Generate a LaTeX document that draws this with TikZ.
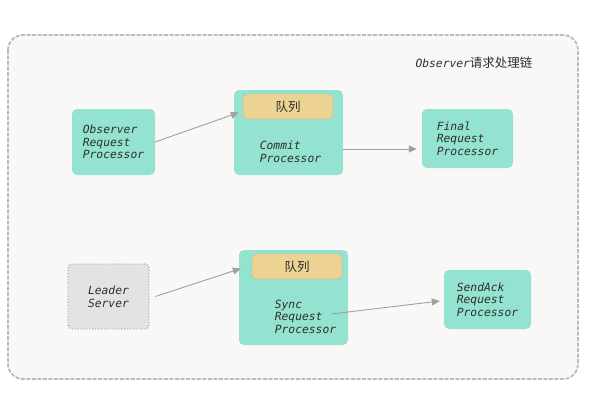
\documentclass[tikz,border=0pt]{standalone}
\usepackage{fontspec}
\setmonofont{DejaVu Sans Mono}[ItalicFont={DejaVu Sans Mono Oblique}]
\newfontfamily\cjk{Noto Sans CJK SC}
\usetikzlibrary{positioning,arrows.meta}
\definecolor{tealbox}{HTML}{93E3D0}
\definecolor{queuefill}{HTML}{EDD393}
\definecolor{queueline}{HTML}{BFAE80}
\definecolor{bgfill}{HTML}{FAF8F7}
\definecolor{bordergray}{HTML}{BBBBBB}
\definecolor{leaderfill}{HTML}{E3E3E3}
\definecolor{arrowgray}{HTML}{A0A0A0}
\definecolor{textgray}{HTML}{2E2E2E}
\newcommand{\procfont}{\ttfamily\itshape\fontsize{11.3}{12.6}\selectfont}
\begin{document}
\begin{tikzpicture}[x=1pt,y=-1pt,
        proc/.style={fill=tealbox, rounded corners=5pt, inner sep=0pt, font=\procfont, text=textgray, align=left},
        leader/.style={fill=leaderfill, draw=gray, dotted, line width=0.9pt, rounded corners=4pt, inner sep=0pt, font=\procfont, text=textgray, align=left},
        queue/.style={fill=queuefill, draw=queueline, rounded corners=4pt, minimum width=90pt, minimum height=25pt, font=\cjk\fontsize{12.5}{14}\selectfont, text=textgray},
        lbl/.style={font=\procfont, text=textgray, align=left, inner sep=0pt},
        arr/.style={draw=arrowgray, line width=0.9pt, -{Triangle[length=8pt,width=7pt]}}]
        \useasboundingbox (0,0) rectangle (602,412);
        \draw[fill=bgfill, draw=bordergray, line width=1.8pt, dash pattern=on 4pt off 1.5pt, rounded corners=15pt] (8,35) rectangle (578,379);

        \node[text=textgray, inner sep=0pt] (title) at (474,63) {{\procfont Observer}{\cjk\fontsize{12.5}{14}\selectfont 请求处理链}};

        % upper chain
        \node[proc, minimum width=83pt, minimum height=66pt] (obs) at (113.5,142) {Observer\\Request\\Processor};
        \node[proc, minimum width=109pt, minimum height=85pt] (commit) at (288.5,132.5) {};
        \node[queue] (cqueue) at (288,106.5) {队列};
        \node[lbl] (ctext) at (290.5,152) {Commit\\Processor};
        \node[proc, minimum width=91pt, minimum height=59pt] (final) at (467.5,138.5) {Final\\Request\\Processor};

        % lower chain
        \node[leader, minimum width=81pt, minimum height=65pt] (leader) at (108.5,296.5) {Leader\\Server};
        \node[proc, minimum width=109pt, minimum height=95pt] (sync) at (293.5,297.5) {};
        \node[queue] (squeue) at (297,266.5) {队列};
        \node[lbl] (stext) at (305.5,316.5) {Sync\\Request\\Processor};
        \node[proc, minimum width=87pt, minimum height=59pt] (sendack) at (487.5,299.5) {SendAck\\Request\\Processor};

        \draw[arr] (obs.east) -- ([xshift=5pt,yshift=20pt]commit.west);
        \draw[arr] ([yshift=-16.5pt]commit.east) -- ([xshift=-5pt,yshift=-10.5pt]final.west);
        \draw[arr] ([xshift=6pt]leader.east) -- ([xshift=2pt,yshift=29pt]sync.west);
        \draw[arr] ([xshift=-5pt,yshift=2.5pt]stext.east) -- ([xshift=-4pt,yshift=-1.5pt]sendack.west);
    \end{tikzpicture}
\end{document}
